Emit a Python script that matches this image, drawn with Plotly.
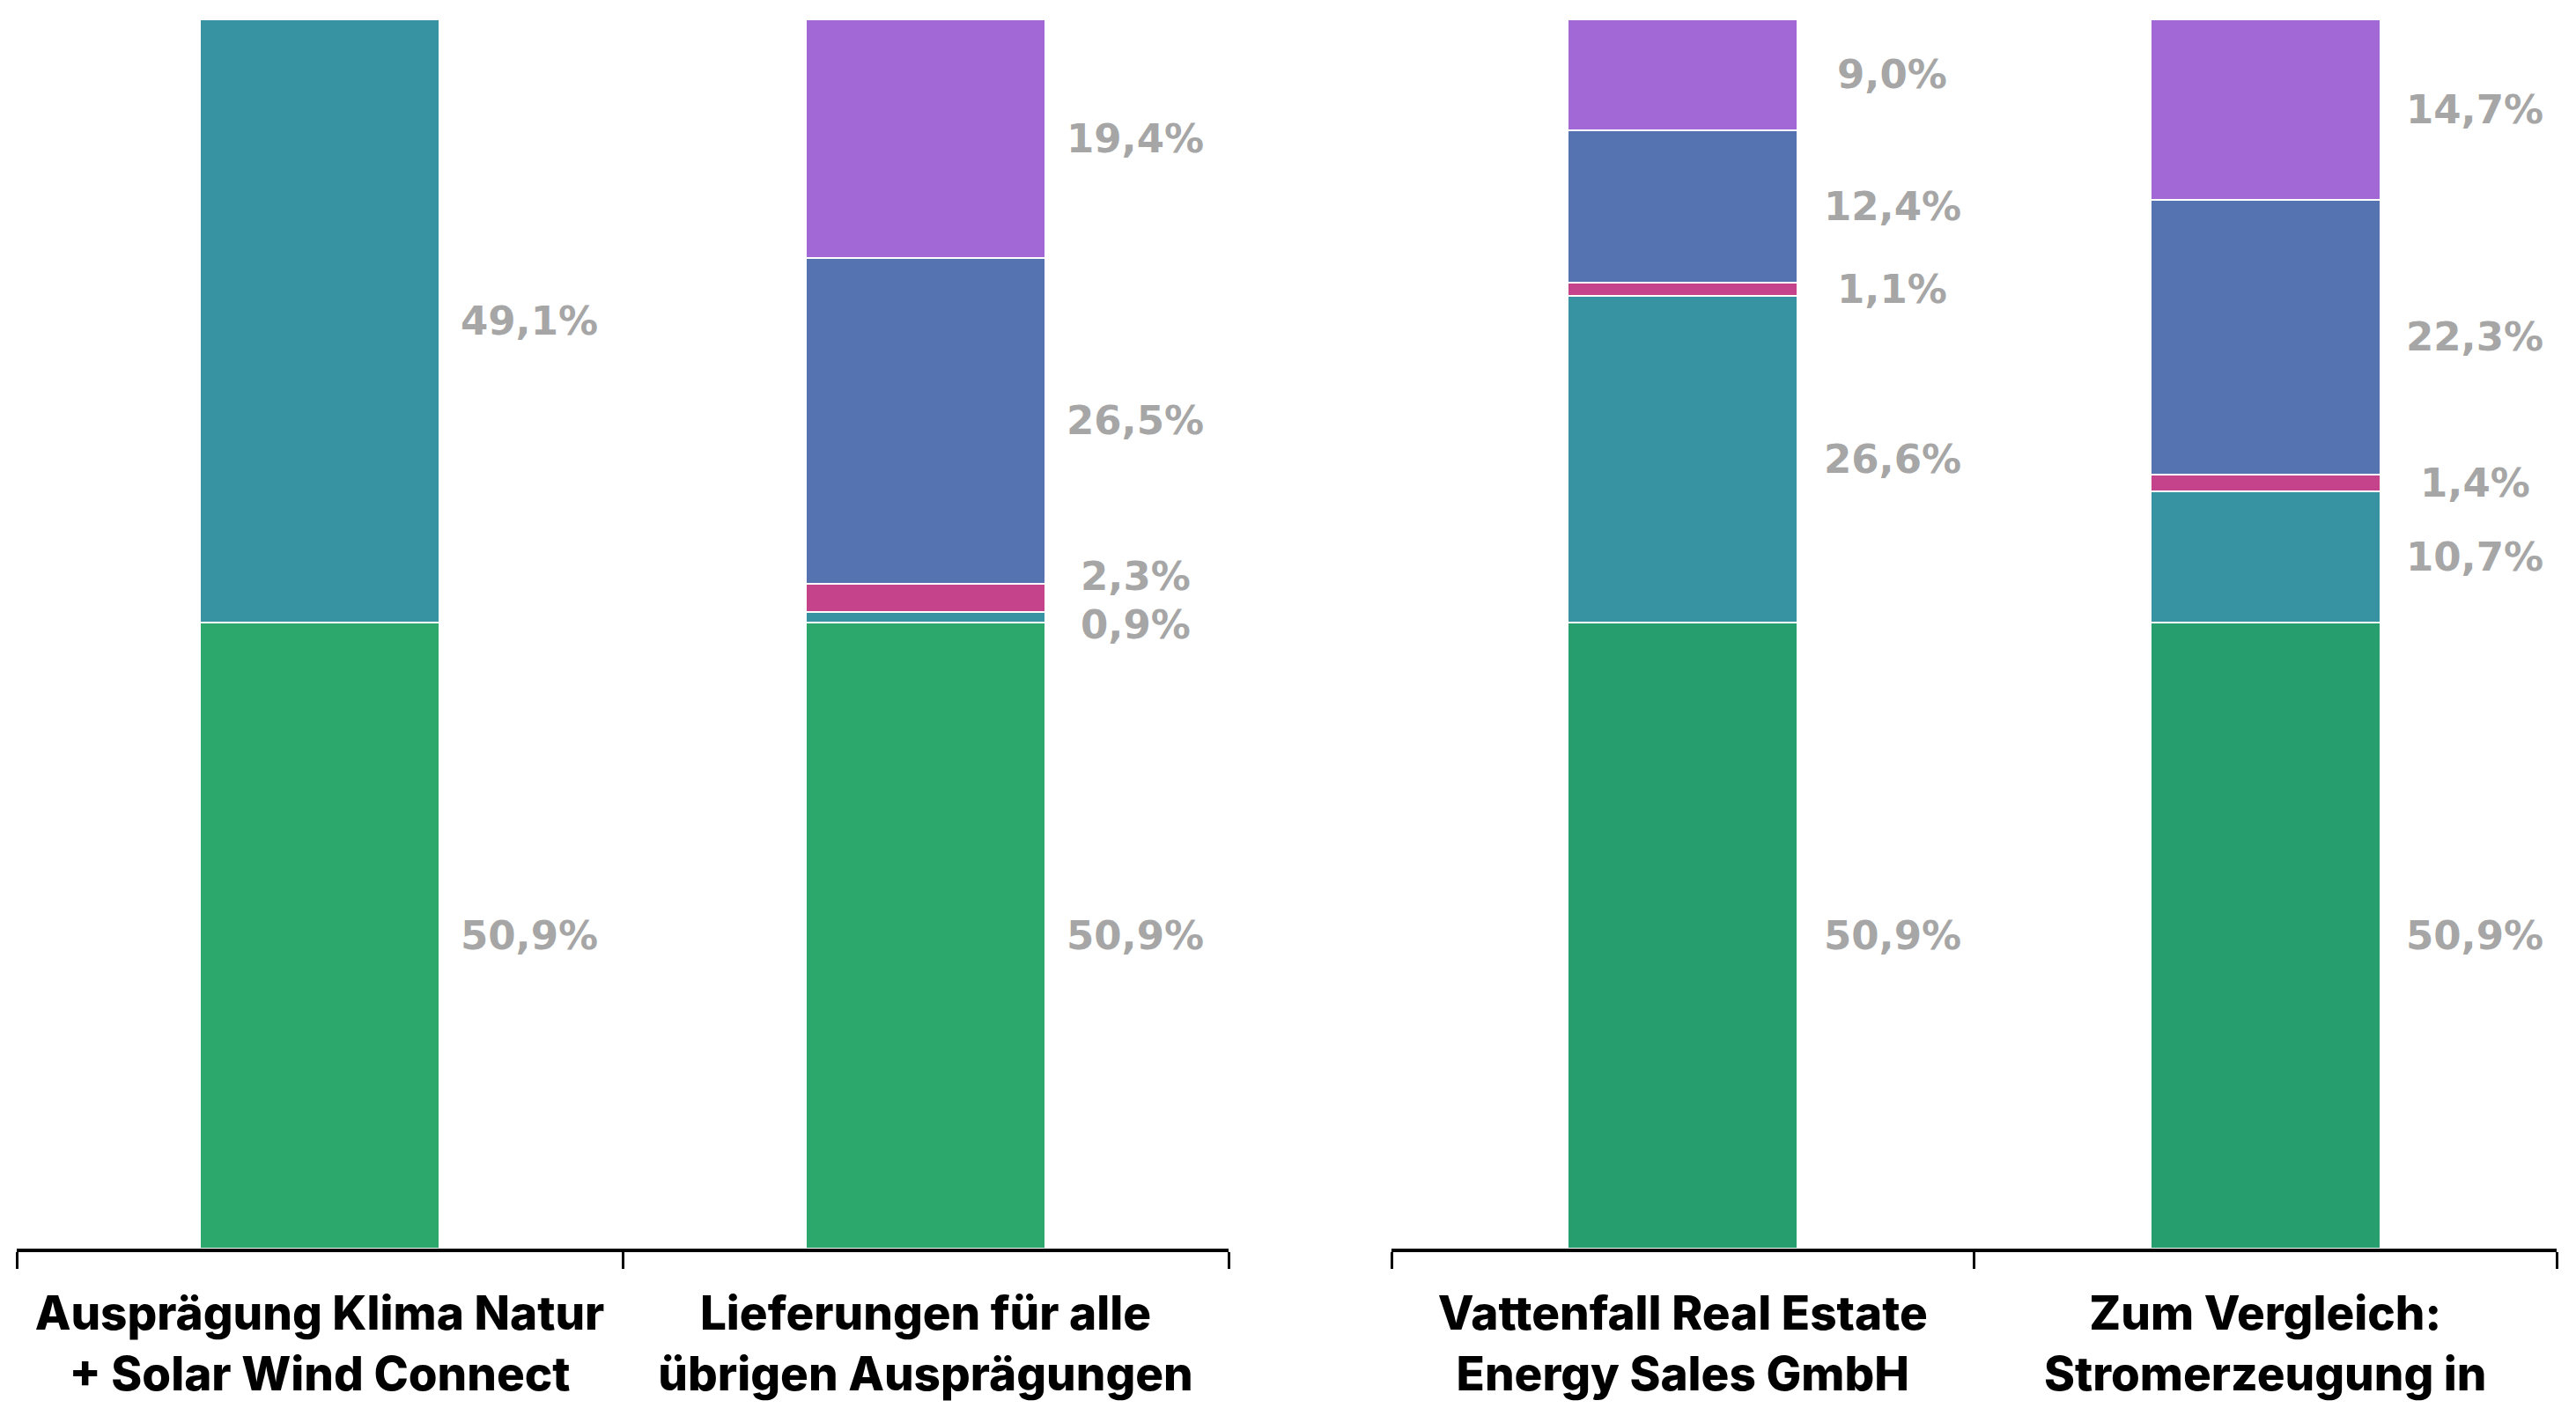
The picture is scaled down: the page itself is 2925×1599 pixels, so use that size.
import plotly.graph_objects as go

# ---- data ----
categories_left = ["Ausprägung Klima Natur<br>+ Solar Wind Connect",
                   "Lieferungen für alle<br>übrigen Ausprägungen"]
categories_right = ["Vattenfall Real Estate<br>Energy Sales GmbH",
                    "Zum Vergleich:<br>Stromerzeugung in"]

series_names = ["Erneuerbare Energien, gefördert nach dem EEG",
                "Erneuerbare Energien mit Herkunftsnachweis",
                "Sonstige fossile Energieträger",
                "Kohle",
                "Erdgas"]

left_values = [
    [50.9, 50.9],   # green
    [49.1, 0.9],    # teal
    [0.0, 2.3],     # magenta
    [0.0, 26.5],    # blue
    [0.0, 19.4],    # purple
]
right_values = [
    [50.9, 50.9],
    [26.6, 10.7],
    [1.1, 1.4],
    [12.4, 22.3],
    [9.0, 14.7],
]

# ---- styles ----
colors_left = ["#2CA86C", "#3792A1", "#C4438A", "#5473B0", "#A168D6"]
colors_right = ["#269E6E", "#3792A1", "#C4438A", "#5473B0", "#A168D6"]
label_color = "#A6A6A6"
# vertical nudges (px) for labels that would overlap: (panel, series, category)
label_nudge = {("L", 2, 1): 24, ("L", 1, 1): -8}

fig = go.Figure()

def add_panel(cats, values, colors, xa, ya, tag):
    for i, (name, vals) in enumerate(zip(series_names, values)):
        fig.add_trace(go.Bar(
            x=cats, y=vals, name=name, xaxis=xa, yaxis=ya,
            marker=dict(color=colors[i], line=dict(color="white", width=2)),
            width=0.395, showlegend=False, hoverinfo="skip"))
    for j, c in enumerate(cats):
        base = 0.0
        for i in range(len(values)):
            v = values[i][j]
            if v > 0:
                txt = f"{v:.1f}%".replace(".", ",")
                fig.add_annotation(
                    x=c, y=base + v / 2, xref=xa, yref=ya, text=txt,
                    showarrow=False, xshift=238,
                    yshift=label_nudge.get((tag, i, j), 0),
                    font=dict(family="DejaVu Sans", size=45, color=label_color,
                              weight="bold"))
            base += v

add_panel(categories_left, left_values, colors_left, "x", "y", "L")
add_panel(categories_right, right_values, colors_right, "x2", "y2", "R")

W, H = 2925, 1599
OFF = 8  # page body margin compensation
axis_common = dict(
    type="category", range=[-0.5, 1.5], showline=True, linecolor="black",
    linewidth=4, ticks="outside", tickson="boundaries", ticklen=19,
    tickwidth=3, tickcolor="black", showgrid=False, zeroline=False,
    tickfont=dict(family="Inter", size=53, color="black", weight=800),
    ticklabelstandoff=24,
)
fig.update_layout(
    width=W, height=H, barmode="stack", bargap=0.6,
    paper_bgcolor="white", plot_bgcolor="white",
    margin=dict(l=0, r=0, t=22 - OFF, b=H - 1418 + OFF),
    xaxis=dict(domain=[(19 - OFF) / W, (1395 - OFF) / W], anchor="y", **axis_common),
    xaxis2=dict(domain=[(1580 - OFF) / W, (2903 - OFF) / W], anchor="y2", **axis_common),
    yaxis=dict(range=[0, 100], visible=False, domain=[0, 1]),
    yaxis2=dict(range=[0, 100], visible=False, domain=[0, 1], anchor="x2"),
)

fig.write_html("out.html")
